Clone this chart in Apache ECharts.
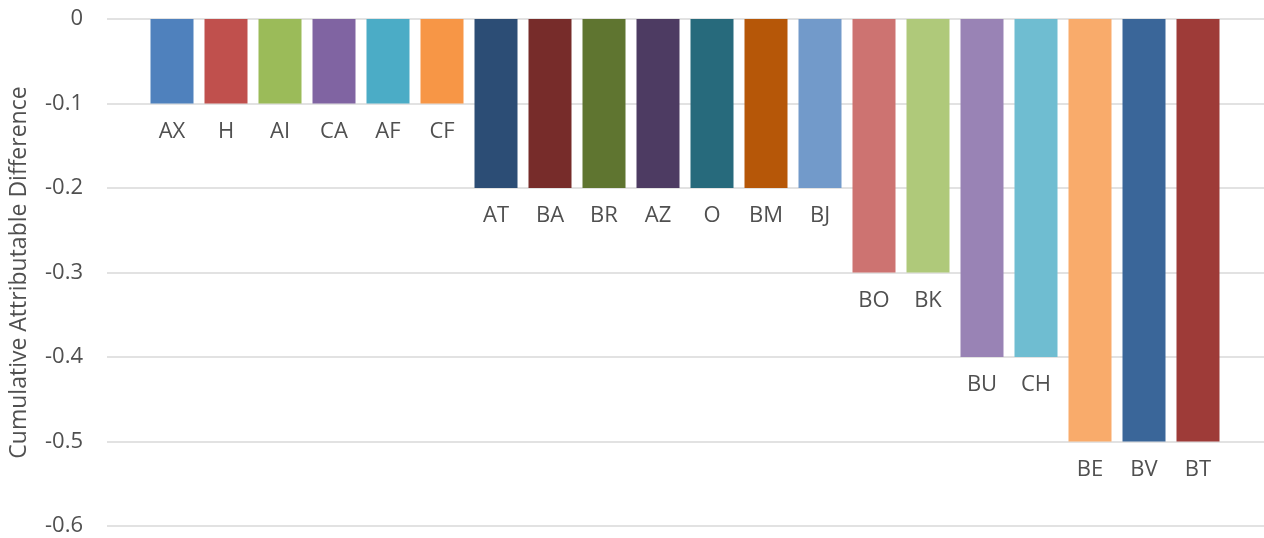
<!DOCTYPE html>
<html>
<head>
<meta charset="utf-8">
<script src="https://cdn.jsdelivr.net/npm/echarts@6/dist/echarts.min.js"></script>
<style>
  html, body { margin: 0; padding: 0; background: #fff; }
  #chart { width: 1264px; height: 538px; }
</style>
</head>
<body>
<div id="chart"></div>
<script>
// chart data
var categories = ['AX', 'H', 'AI', 'CA', 'AF', 'CF', 'AT', 'BA', 'BR', 'AZ', 'O', 'BM', 'BJ', 'BO', 'BK', 'BU', 'CH', 'BE', 'BV', 'BT']
var values = [-0.1, -0.1, -0.1, -0.1, -0.1, -0.1, -0.2, -0.2, -0.2, -0.2, -0.2, -0.2, -0.2, -0.3, -0.3, -0.4, -0.4, -0.5, -0.5, -0.5]
var yTicks = { min: -0.6, max: 0, interval: 0.1 }
var yTitle = 'Cumulative Attributable Difference'

// excel-ish palette
var colors = [
  '#4F81BD', '#C0504D', '#9BBB59', '#8064A2', '#4BACC6', '#F79646',
  '#2C4D75', '#772C2A', '#5F7530', '#4D3B62', '#276A7C', '#B65708',
  '#729ACA', '#CD7371', '#AFC97A', '#9983B5', '#6FBDD1', '#F9AB6B',
  '#3A6699', '#9E3B38'
]

var font = '"Open Sans", "DejaVu Sans", sans-serif'
var textColor = '#505050'

var chart = echarts.init(document.getElementById('chart'))
chart.setOption({
  animation: false,
  grid: [
    // gridlines + y labels span the full plot area
    { left: 105, right: 0, top: 19, bottom: 12 },
    // bars sit a bit inside it
    { left: 145, right: 39, top: 19, bottom: 12 }
  ],
  xAxis: [
    { gridIndex: 0, type: 'value', show: false },
    {
      gridIndex: 1,
      type: 'category',
      data: categories,
      show: false
    }
  ],
  yAxis: [
    {
      gridIndex: 0,
      type: 'value',
      min: yTicks.min,
      max: yTicks.max,
      interval: yTicks.interval,
      name: yTitle,
      nameLocation: 'middle',
      nameGap: 76,
      nameTextStyle: { color: textColor, fontFamily: font, fontSize: 23 },
      axisLine: { show: false },
      axisTick: { show: false },
      axisLabel: {
        color: textColor,
        fontFamily: font,
        fontSize: 22,
        margin: 24,
        formatter: function (v) {
          return v === 0 ? '0' : v.toFixed(1)
        }
      },
      splitLine: { lineStyle: { color: '#d9d9d9', width: 1.5 } }
    },
    {
      gridIndex: 1,
      type: 'value',
      min: yTicks.min,
      max: yTicks.max,
      interval: yTicks.interval,
      show: false,
      splitLine: { show: false }
    }
  ],
  series: [
    {
      type: 'bar',
      xAxisIndex: 1,
      yAxisIndex: 1,
      barWidth: 43,
      data: values.map(function (v, i) {
        return { value: v, itemStyle: { color: colors[i % colors.length] } }
      }),
      label: {
        show: true,
        position: 'bottom',
        distance: 17,
        formatter: '{b}',
        color: textColor,
        fontFamily: font,
        fontSize: 22
      }
    }
  ]
})
</script>
</body>
</html>
